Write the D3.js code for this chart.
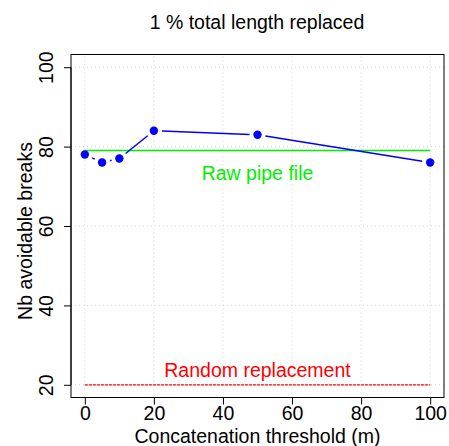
<!DOCTYPE html>
<html><head><meta charset="utf-8">
<script src="https://cdn.jsdelivr.net/npm/d3@7"></script>
<style>body{margin:0;background:#fff}svg{display:block;font-family:"Liberation Sans",Arial,sans-serif}</style>
</head><body><svg id="c" width="449" height="446"></svg>
<script>
const thresholds = [0, 5, 10, 20, 50, 100];
const breaks = [78, 76, 77, 84, 83, 76];
const rawPipe = 79;
const randomRepl = 20;
const xTicks = [0, 20, 40, 60, 80, 100];
const yTicks = [20, 40, 60, 80, 100];

const FS = 19.5;
const svg = d3.select("#c");
const x = d3.scaleLinear().domain([-4, 104]).range([71, 444]);
const y = d3.scaleLinear().domain([16.8, 103.2]).range([397.5, 54.5]);

// grid
const g = svg.append("g");
xTicks.forEach(t => g.append("line").attr("x1", x(t)).attr("x2", x(t)).attr("y1", y(16.8)).attr("y2", y(103.2))
  .attr("stroke", "#d3d3d3").attr("stroke-dasharray", "1,3"));
yTicks.forEach(t => g.append("line").attr("y1", y(t)).attr("y2", y(t)).attr("x1", x(-4)).attr("x2", x(104))
  .attr("stroke", "#d3d3d3").attr("stroke-dasharray", "1,3"));

// reference lines
svg.append("line").attr("x1", x(0)).attr("x2", x(100)).attr("y1", y(rawPipe)).attr("y2", y(rawPipe))
  .attr("stroke", "#00ee00").attr("stroke-width", 1.5);
svg.append("line").attr("x1", x(0)).attr("x2", x(100)).attr("y1", y(randomRepl)).attr("y2", y(randomRepl))
  .attr("stroke", "#ff0000").attr("stroke-width", 1.2).attr("stroke-dasharray", "3,1");

svg.append("text").attr("x", x(50)).attr("y", y(rawPipe) + 29).attr("text-anchor", "middle")
  .attr("fill", "#00ee00").attr("font-size", FS).text("Raw pipe file");
svg.append("text").attr("x", x(50)).attr("y", y(randomRepl) - 8).attr("text-anchor", "middle")
  .attr("fill", "#ff0000").attr("font-size", FS).text("Random replacement");

// line type "b": segments with gaps
const gap = 8;
for (let i = 0; i < thresholds.length - 1; i++) {
  const x1 = x(thresholds[i]), y1 = y(breaks[i]), x2 = x(thresholds[i+1]), y2 = y(breaks[i+1]);
  const d = Math.hypot(x2 - x1, y2 - y1);
  if (d <= 2 * gap) continue;
  const ux = (x2 - x1) / d, uy = (y2 - y1) / d;
  svg.append("line").attr("x1", x1 + ux * gap).attr("y1", y1 + uy * gap)
    .attr("x2", x2 - ux * gap).attr("y2", y2 - uy * gap)
    .attr("stroke", "#0000ff").attr("stroke-width", 1.5);
}
svg.selectAll("circle.p").data(thresholds).enter().append("circle")
  .attr("cx", d => x(d)).attr("cy", (d, i) => y(breaks[i])).attr("r", 4.2).attr("fill", "#0000ff");

// box
svg.append("rect").attr("x", x(-4)).attr("y", y(103.2)).attr("width", x(104) - x(-4)).attr("height", y(16.8) - y(103.2))
  .attr("fill", "none").attr("stroke", "#000").attr("stroke-width", 1);

// axes
const xa = svg.append("g").attr("transform", `translate(0,${y(16.8)})`)
  .call(d3.axisBottom(x).tickValues(xTicks).tickSize(7).tickPadding(2).tickFormat(d3.format("d")));
xa.select(".domain").attr("d", `M${x(0)},0H${x(100)}`);
xa.selectAll("text").attr("font-size", FS).attr("font-family", "Liberation Sans, Arial, sans-serif").attr("fill", "#000");

const ya = svg.append("g").attr("transform", `translate(${x(-4)},0)`)
  .call(d3.axisLeft(y).tickValues(yTicks).tickSize(7).tickFormat(d3.format("d")));
ya.select(".domain").attr("d", `M0,${y(20)}V${y(100)}`);
ya.selectAll("text").attr("font-size", FS).attr("font-family", "Liberation Sans, Arial, sans-serif").attr("fill", "#000")
  .attr("text-anchor", "middle").attr("dy", 0).attr("x", 0)
  .attr("transform", `translate(-18,0) rotate(-90)`);

svg.append("text").attr("x", 257).attr("y", 29).attr("text-anchor", "middle").attr("font-size", FS).text("1 % total length replaced");
svg.append("text").attr("x", x(50)).attr("y", 443).attr("text-anchor", "middle").attr("font-size", FS).text("Concatenation threshold (m)");
svg.append("text").attr("transform", `translate(32,231) rotate(-90)`).attr("text-anchor", "middle").attr("font-size", FS).text("Nb avoidable breaks");
</script></body></html>
